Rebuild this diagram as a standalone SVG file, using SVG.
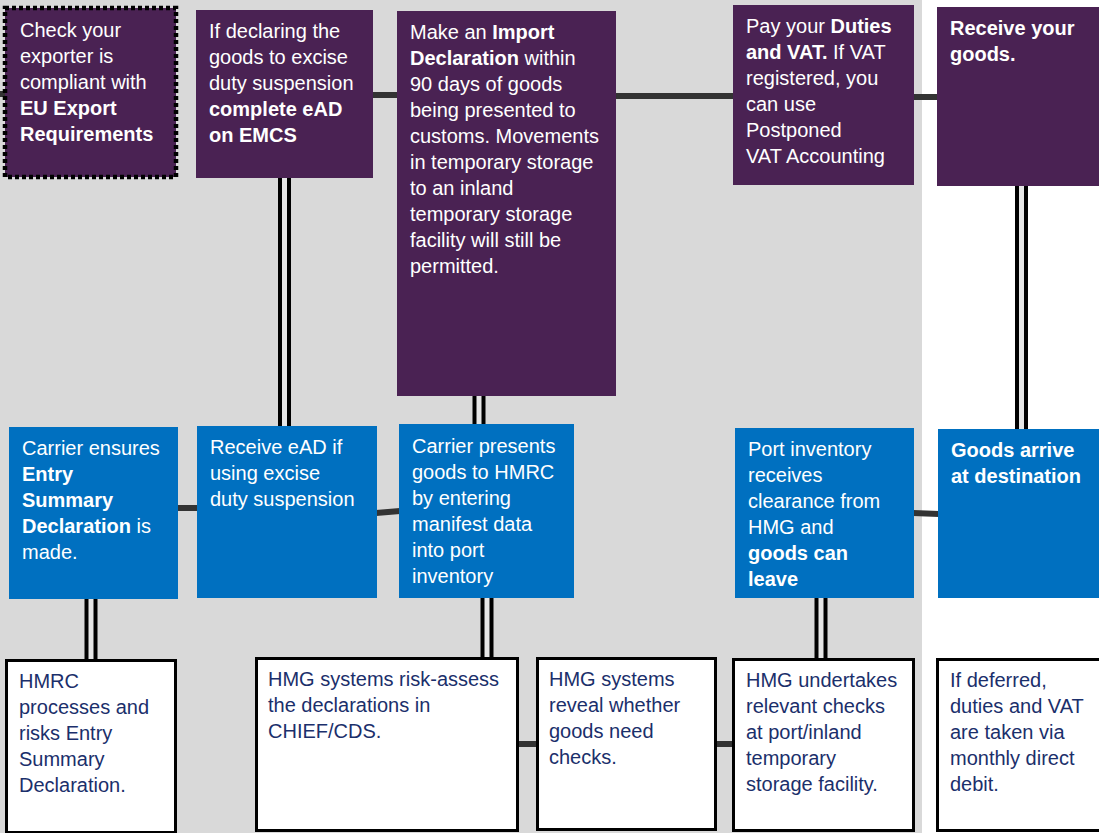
<svg xmlns="http://www.w3.org/2000/svg" width="1099" height="833" viewBox="0 0 1099 833">
<style>
text{font-family:"Liberation Sans",Arial,sans-serif;font-size:20px}
.w{fill:#ffffff}
.n{fill:#1b2f6b}
.b{font-weight:bold}
.pu{fill:#4a2253}
.bl{fill:#0070c0}
.wb{fill:#ffffff;stroke:#000;stroke-width:3}
.h{stroke:#333333;stroke-width:6;fill:none}
.dv{stroke:#000;stroke-width:13;fill:none}
.dg{stroke:#e6e6e6;stroke-width:5;fill:none}
</style>
<rect x="0" y="0" width="1099" height="833" fill="#ffffff"/>
<rect x="0" y="0" width="922" height="833" fill="#d9d9d9"/>
<g id="connectors">
<line class="h" x1="0" y1="94" x2="6" y2="94"/>
<line class="h" x1="372" y1="95" x2="398" y2="95"/>
<line class="h" x1="615" y1="96" x2="734" y2="96"/>
<line class="h" x1="913" y1="97" x2="938" y2="97"/>
<line class="h" x1="177" y1="508" x2="198" y2="508"/>
<line class="h" x1="376" y1="513" x2="400" y2="511"/>
<line class="h" x1="913" y1="513" x2="939" y2="514"/>
<line class="h" x1="517" y1="744" x2="538" y2="744"/>
<line class="h" x1="715" y1="744" x2="734" y2="744"/>
<g>
<line class="dv" x1="284.5" y1="178" x2="284.5" y2="427"/><line class="dg" x1="284.5" y1="178" x2="284.5" y2="427"/>
<line class="dv" x1="479" y1="395" x2="479" y2="425"/><line class="dg" x1="479" y1="395" x2="479" y2="425"/>
<line class="dv" x1="1021.5" y1="185" x2="1021.5" y2="430"/><line class="dg" x1="1021.5" y1="185" x2="1021.5" y2="430"/>
<line class="dv" x1="91" y1="598" x2="91" y2="660"/><line class="dg" x1="91" y1="598" x2="91" y2="660"/>
<line class="dv" x1="487" y1="597" x2="487" y2="658"/><line class="dg" x1="487" y1="597" x2="487" y2="658"/>
<line class="dv" x1="821" y1="597" x2="821" y2="659"/><line class="dg" x1="821" y1="597" x2="821" y2="659"/>
</g>
</g>
<g id="n1">
<rect class="pu" x="5" y="8" width="171" height="169" stroke="#000" stroke-width="4.5" stroke-dasharray="4 3"/>
<text class="w" x="20" y="37">Check your</text>
<text class="w" x="20" y="63">exporter is</text>
<text class="w" x="20" y="89">compliant with</text>
<text class="w b" x="20" y="115">EU Export</text>
<text class="w b" x="20" y="141">Requirements</text>
</g>
<g id="n2">
<rect class="pu" x="196" y="10" width="177" height="168"/>
<text class="w" x="209" y="38">If declaring the</text>
<text class="w" x="209" y="64">goods to excise</text>
<text class="w" x="209" y="90">duty suspension</text>
<text class="w b" x="209" y="116">complete eAD</text>
<text class="w b" x="209" y="142">on EMCS</text>
</g>
<g id="n3">
<rect class="pu" x="397" y="11" width="219" height="385"/>
<text class="w" x="410" y="39">Make an <tspan class="b">Import</tspan></text>
<text class="w" x="410" y="65"><tspan class="b">Declaration</tspan> within</text>
<text class="w" x="410" y="91">90 days of goods</text>
<text class="w" x="410" y="117">being presented to</text>
<text class="w" x="410" y="143">customs. Movements</text>
<text class="w" x="410" y="169">in temporary storage</text>
<text class="w" x="410" y="195">to an inland</text>
<text class="w" x="410" y="221">temporary storage</text>
<text class="w" x="410" y="247">facility will still be</text>
<text class="w" x="410" y="273">permitted.</text>
</g>
<g id="n4">
<rect class="pu" x="733" y="5" width="181" height="180"/>
<text class="w" x="746" y="33">Pay your <tspan class="b">Duties</tspan></text>
<text class="w" x="746" y="59"><tspan class="b">and VAT.</tspan> If VAT</text>
<text class="w" x="746" y="85">registered, you</text>
<text class="w" x="746" y="111">can use</text>
<text class="w" x="746" y="137">Postponed</text>
<text class="w" x="746" y="163">VAT Accounting</text>
</g>
<g id="n5">
<rect class="pu" x="937" y="7" width="162" height="179"/>
<text class="w b" x="950" y="35">Receive your</text>
<text class="w b" x="950" y="61">goods.</text>
</g>
<g id="n6">
<rect class="bl" x="9" y="427" width="169" height="172"/>
<text class="w" x="22" y="455">Carrier ensures</text>
<text class="w b" x="22" y="481">Entry</text>
<text class="w b" x="22" y="507">Summary</text>
<text class="w" x="22" y="533"><tspan class="b">Declaration</tspan> is</text>
<text class="w" x="22" y="559">made.</text>
</g>
<g id="n7">
<rect class="bl" x="197" y="426" width="180" height="172"/>
<text class="w" x="210" y="454">Receive eAD if</text>
<text class="w" x="210" y="480">using excise</text>
<text class="w" x="210" y="506">duty suspension</text>
</g>
<g id="n8">
<rect class="bl" x="399" y="424" width="175" height="174"/>
<text class="w" x="412" y="453">Carrier presents</text>
<text class="w" x="412" y="479">goods to HMRC</text>
<text class="w" x="412" y="505">by entering</text>
<text class="w" x="412" y="531">manifest data</text>
<text class="w" x="412" y="557">into port</text>
<text class="w" x="412" y="583">inventory</text>
</g>
<g id="n9">
<rect class="bl" x="735" y="428" width="179" height="170"/>
<text class="w" x="748" y="456">Port inventory</text>
<text class="w" x="748" y="482">receives</text>
<text class="w" x="748" y="508">clearance from</text>
<text class="w" x="748" y="534">HMG and</text>
<text class="w b" x="748" y="560">goods can</text>
<text class="w b" x="748" y="586">leave</text>
</g>
<g id="n10">
<rect class="bl" x="938" y="429" width="161" height="169"/>
<text class="w b" x="951" y="457">Goods arrive</text>
<text class="w b" x="951" y="483">at destination</text>
</g>
<g id="n11">
<rect class="wb" x="6.5" y="660.5" width="169" height="172"/>
<text class="n" x="19" y="688">HMRC</text>
<text class="n" x="19" y="714">processes and</text>
<text class="n" x="19" y="740">risks Entry</text>
<text class="n" x="19" y="766">Summary</text>
<text class="n" x="19" y="792">Declaration.</text>
</g>
<g id="n12">
<rect class="wb" x="256.5" y="658.5" width="261" height="172"/>
<text class="n" x="268" y="686">HMG systems risk-assess</text>
<text class="n" x="268" y="712">the declarations in</text>
<text class="n" x="268" y="738">CHIEF/CDS.</text>
</g>
<g id="n13">
<rect class="wb" x="537.5" y="658.5" width="178" height="171"/>
<text class="n" x="549" y="686">HMG systems</text>
<text class="n" x="549" y="712">reveal whether</text>
<text class="n" x="549" y="738">goods need</text>
<text class="n" x="549" y="764">checks.</text>
</g>
<g id="n14">
<rect class="wb" x="733.5" y="659.5" width="180" height="171"/>
<text class="n" x="746" y="687">HMG undertakes</text>
<text class="n" x="746" y="713">relevant checks</text>
<text class="n" x="746" y="739">at port/inland</text>
<text class="n" x="746" y="765">temporary</text>
<text class="n" x="746" y="791">storage facility.</text>
</g>
<g id="n15">
<rect class="wb" x="937.5" y="659.5" width="170" height="171"/>
<text class="n" x="950" y="687">If deferred,</text>
<text class="n" x="950" y="713">duties and VAT</text>
<text class="n" x="950" y="739">are taken via</text>
<text class="n" x="950" y="765">monthly direct</text>
<text class="n" x="950" y="791">debit.</text>
</g>
</svg>
